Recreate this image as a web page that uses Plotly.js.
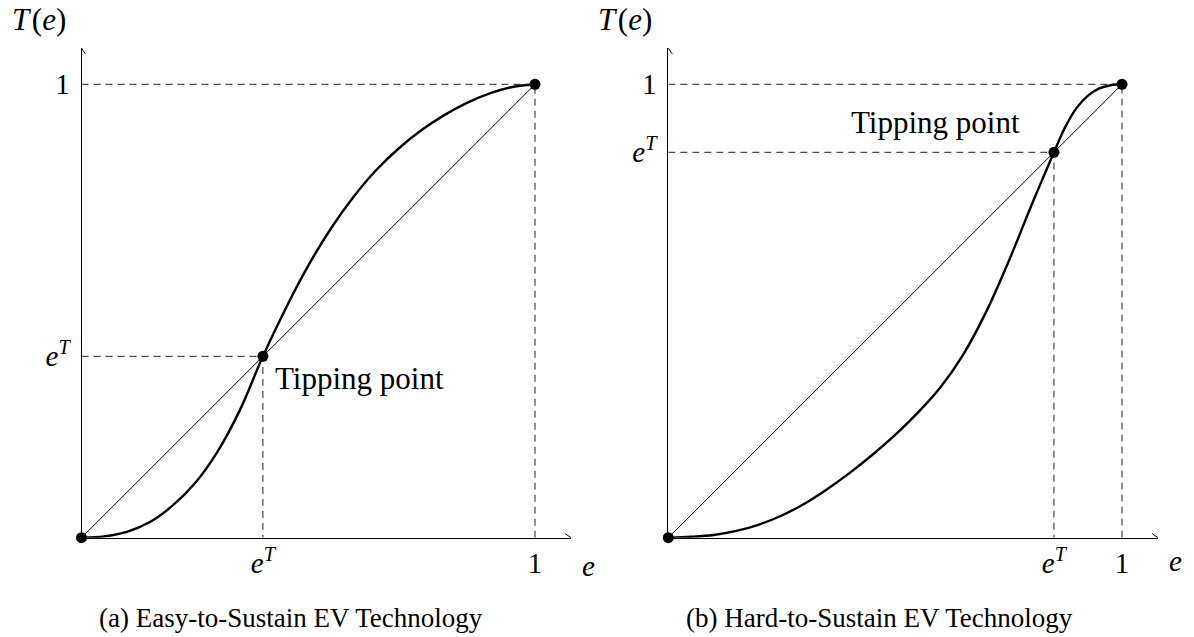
<!DOCTYPE html>
<html>
<head>
<meta charset="utf-8">
<script src="https://cdn.plot.ly/plotly-3.0.1.min.js"></script>
<style>
  html, body { margin: 0; padding: 0; background: #fff; }
  #chart { width: 1194px; height: 637px; }
</style>
</head>
<body>
<div id="chart"></div>
<script>
// Adoption response T(e) for an easy-to-sustain technology (S-shaped, tipping point low)
const eEasy = [0, 0.05, 0.1, 0.15, 0.2, 0.25, 0.3, 0.35, 0.4, 0.45, 0.5, 0.55, 0.6, 0.65, 0.7, 0.75, 0.8, 0.85, 0.9, 0.95, 1];
const tEasy = [0, 0.003, 0.013, 0.034, 0.07, 0.12, 0.19, 0.283, 0.4, 0.505, 0.6, 0.682, 0.752, 0.811, 0.859, 0.899, 0.932, 0.959, 0.98, 0.994, 1];

// Adoption response T(e) for a hard-to-sustain technology (tipping point high)
const eHard = [0, 0.05, 0.1, 0.15, 0.2, 0.25, 0.3, 0.35, 0.4, 0.45, 0.5, 0.55, 0.6, 0.65, 0.7, 0.75, 0.8, 0.85, 0.875, 0.9, 0.925, 0.95, 0.975, 1];
const tHard = [0, 0.002, 0.006, 0.015, 0.029, 0.049, 0.075, 0.107, 0.143, 0.183, 0.227, 0.276, 0.332, 0.404, 0.497, 0.609, 0.732, 0.85, 0.906, 0.948, 0.975, 0.991, 0.998, 1];

// Tipping points e^T (fixed points where T(e) = e)
const tipEasy = 0.4;
const tipHard = 0.85;

const tickVals = [1];
const tickText = ['1'];
const tipLabel = '<i>e</i><sup><i>T</i></sup>';
const captions = ['(a) Easy-to-Sustain EV Technology', '(b) Hard-to-Sustain EV Technology'];

const FONT = 'Liberation Serif, Times New Roman, serif';
const AX_MAX = 1.08;

function panelTraces(e, t, tip, xa, ya) {
  const common = { xaxis: xa, yaxis: ya, hoverinfo: 'skip', showlegend: false, cliponaxis: false };
  return [
    // dashed guides to the tipping point and to (1, 1)
    Object.assign({ x: [0, tip, tip], y: [tip, tip, 0], mode: 'lines',
      line: { color: '#222', width: 1, dash: '7px,5px' } }, common),
    Object.assign({ x: [0, 1, 1], y: [1, 1, 0], mode: 'lines',
      line: { color: '#222', width: 1, dash: '7px,5px' } }, common),
    // 45-degree line T(e) = e
    Object.assign({ x: [0, 1], y: [0, 1], mode: 'lines',
      line: { color: '#000', width: 1 } }, common),
    // response curve
    Object.assign({ x: e, y: t, mode: 'lines',
      line: { color: '#000', width: 2.4, shape: 'spline', smoothing: 1 } }, common),
    // fixed points
    Object.assign({ x: [0, tip, 1], y: [0, tip, 1], mode: 'markers',
      marker: { color: '#000', size: 11 } }, common)
  ];
}

const data = [].concat(
  panelTraces(eEasy, tEasy, tipEasy, 'x', 'y'),
  panelTraces(eHard, tHard, tipHard, 'x2', 'y2')
);

function xAxis(domain, tip) {
  return {
    domain: domain, range: [0, AX_MAX], showgrid: false, zeroline: false,
    showline: true, linecolor: '#000', linewidth: 1,
    ticks: '', tickvals: [tip].concat(tickVals), ticktext: [tipLabel].concat(tickText),
    tickfont: { family: FONT, size: 29, color: '#000' }, ticklabelstandoff: 0,
    fixedrange: true
  };
}
function yAxis(domain, tip, anchor) {
  return {
    domain: domain, range: [0, AX_MAX], anchor: anchor, showgrid: false, zeroline: false,
    showline: true, linecolor: '#000', linewidth: 1,
    ticks: '', tickvals: [tip].concat(tickVals), ticktext: [tipLabel].concat(tickText),
    tickfont: { family: FONT, size: 29, color: '#000' }, ticklabelstandoff: 5,
    fixedrange: true
  };
}

const yDom = [0.15589, 0.92460];

function arrowShapes(xr, yr) {
  return [
    { type: 'path', xref: xr, yref: yr, xsizemode: 'pixel', ysizemode: 'pixel',
      xanchor: AX_MAX, yanchor: 0, path: 'M-6,4 Q-2,1 0,0 Q-2,-1 -6,-4',
      line: { color: '#000', width: 1 } },
    { type: 'path', xref: xr, yref: yr, xsizemode: 'pixel', ysizemode: 'pixel',
      xanchor: 0, yanchor: AX_MAX, path: 'M-4,-6 Q-1,-2 0,0 Q1,-2 4,-6',
      line: { color: '#000', width: 1 } }
  ];
}

function axisTitles(xr, yr, eShiftY) {
  return [
    { xref: xr, yref: yr, x: 0, y: AX_MAX, xshift: -43, yshift: 29, showarrow: false,
      text: '<i>T</i>\u200A(<i>e</i>)', font: { family: FONT, size: 31, color: '#000' } },
    { xref: xr, yref: yr, x: AX_MAX, y: 0, xshift: 17, yshift: eShiftY, showarrow: false,
      text: '<i>e</i>', font: { family: FONT, size: 29, color: '#000' } }
  ];
}

const layout = {
  width: 1194, height: 637,
  margin: { l: 0, r: 0, t: 0, b: 0 },
  paper_bgcolor: '#fff', plot_bgcolor: '#fff',
  showlegend: false,
  xaxis: xAxis([0.06826, 0.47846], tipEasy),
  yaxis: yAxis(yDom, tipEasy, 'x'),
  xaxis2: xAxis([0.55972, 0.97010], tipHard),
  yaxis2: yAxis(yDom, tipHard, 'x2'),
  shapes: [].concat(arrowShapes('x', 'y'), arrowShapes('x2', 'y2')),
  annotations: [].concat(
    axisTitles('x', 'y', -28),
    axisTitles('x2', 'y2', -23),
    [
      { xref: 'x', yref: 'y', x: tipEasy, y: tipEasy, xanchor: 'left', yanchor: 'top',
        xshift: 10, yshift: -3, showarrow: false, text: 'Tipping point',
        font: { family: FONT, size: 31, color: '#000' } },
      { xref: 'x2', yref: 'y2', x: tipHard, y: tipHard, xanchor: 'right', yanchor: 'bottom',
        xshift: -32, yshift: 10, showarrow: false, text: 'Tipping point',
        font: { family: FONT, size: 31, color: '#000' } },
      { xref: 'paper', yref: 'paper', x: 485 / 1194, y: 1 - 618 / 637, xanchor: 'right', yanchor: 'middle',
        showarrow: false, text: captions[0], font: { family: FONT, size: 27, color: '#000' } },
      { xref: 'paper', yref: 'paper', x: 1075 / 1194, y: 1 - 618 / 637, xanchor: 'right', yanchor: 'middle',
        showarrow: false, text: captions[1], font: { family: FONT, size: 27, color: '#000' } }
    ]
  )
};

Plotly.newPlot('chart', data, layout, { staticPlot: true, displayModeBar: false });
</script>
</body>
</html>
